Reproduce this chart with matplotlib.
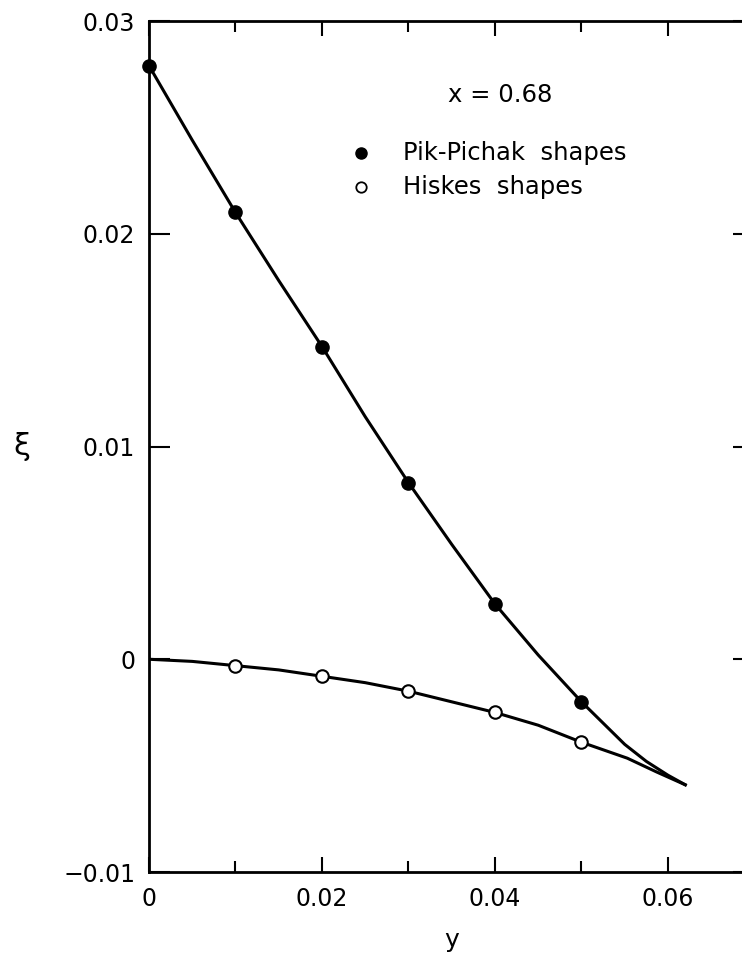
import matplotlib
matplotlib.use("Agg")
import matplotlib.pyplot as plt

# measured points (markers)
y_pts = [0.0, 0.01, 0.02, 0.03, 0.04, 0.05]
pik_pts = [0.0279, 0.0210, 0.0147, 0.0083, 0.0026, -0.0020]
y_hisk = [0.01, 0.02, 0.03, 0.04, 0.05]
hisk_pts = [-0.0003, -0.0008, -0.0015, -0.0025, -0.0039]

# traced curves
y_pik_curve = [0.0, 0.005, 0.01, 0.015, 0.02, 0.025, 0.03, 0.035, 0.04,
               0.045, 0.05, 0.0525, 0.055, 0.0575, 0.060, 0.0620]
pik_curve = [0.0279, 0.0244, 0.0210, 0.0178, 0.0147, 0.0114, 0.0083, 0.0054,
             0.0026, 0.0002, -0.0020, -0.0030, -0.0040, -0.0048, -0.00545,
             -0.0059]
y_hisk_curve = [0.0, 0.005, 0.01, 0.015, 0.02, 0.025, 0.03, 0.035, 0.04,
                0.045, 0.05, 0.0553, 0.0587, 0.0620]
hisk_curve = [0.0, -0.0001, -0.0003, -0.0005, -0.0008, -0.0011, -0.0015,
              -0.0020, -0.0025, -0.0031, -0.0039, -0.00465, -0.0053, -0.0059]

xticks = [0, 0.02, 0.04, 0.06]
xtick_labels = ['0', '0.02', '0.04', '0.06']
xminor = [0.01, 0.03, 0.05]
yticks = [-0.01, 0, 0.01, 0.02, 0.03]
ytick_labels = ['\u22120.01', '0', '0.01', '0.02', '0.03']

plt.rcParams['font.family'] = ['DejaVu Sans']

fig = plt.figure(figsize=(7.42, 9.59), dpi=100)
ax = fig.add_axes([0.2008, 0.0907, 0.8160, 0.8874])

ax.plot(y_pik_curve, pik_curve, color='black', lw=2.2, zorder=2)
ax.plot(y_hisk_curve, hisk_curve, color='black', lw=2.2, zorder=2)
ax.plot(y_pts, pik_pts, 'o', color='black', ms=9.5, zorder=3, clip_on=False)
ax.plot(y_hisk, hisk_pts, 'o', mfc='white', mec='black', mew=1.5, ms=9,
        zorder=3)

ax.set_xlim(0, 0.07)
ax.set_ylim(-0.01, 0.03)

ax.set_xticks(xticks)
ax.set_xticklabels(xtick_labels)
ax.set_xticks(xminor, minor=True)
ax.set_yticks(yticks)
ax.set_yticklabels(ytick_labels)

for s in ax.spines.values():
    s.set_linewidth(2.0)

ax.tick_params(axis='x', which='major', direction='in', length=11, width=1.5,
               top=True, labelsize=17, pad=11)
ax.tick_params(axis='x', which='minor', direction='in', length=8, width=1.5,
               top=True)
ax.tick_params(axis='y', which='major', direction='in', length=15, width=1.5,
               right=True, labelsize=17, pad=10)

ax.set_xlabel('y', fontsize=18, labelpad=12)
ax.set_ylabel('\u03be', fontsize=22, rotation=0, va='center')
ax.yaxis.set_label_coords(-0.21, 0.5)

# key
ax.text(0.494, 0.913, 'x = 0.68', transform=ax.transAxes, fontsize=17.5,
        va='center')
ax.plot([0.0245], [0.0238], 'o', color='black', ms=8, zorder=3)
ax.plot([0.0245], [0.0222], 'o', mfc='white', mec='black', mew=1.3, ms=7.5,
        zorder=3)
ax.text(0.0294, 0.0238, 'Pik-Pichak  shapes', fontsize=17.5, va='center')
ax.text(0.0294, 0.0222, 'Hiskes  shapes', fontsize=17.5, va='center')

fig.savefig('out.png', dpi=100)
